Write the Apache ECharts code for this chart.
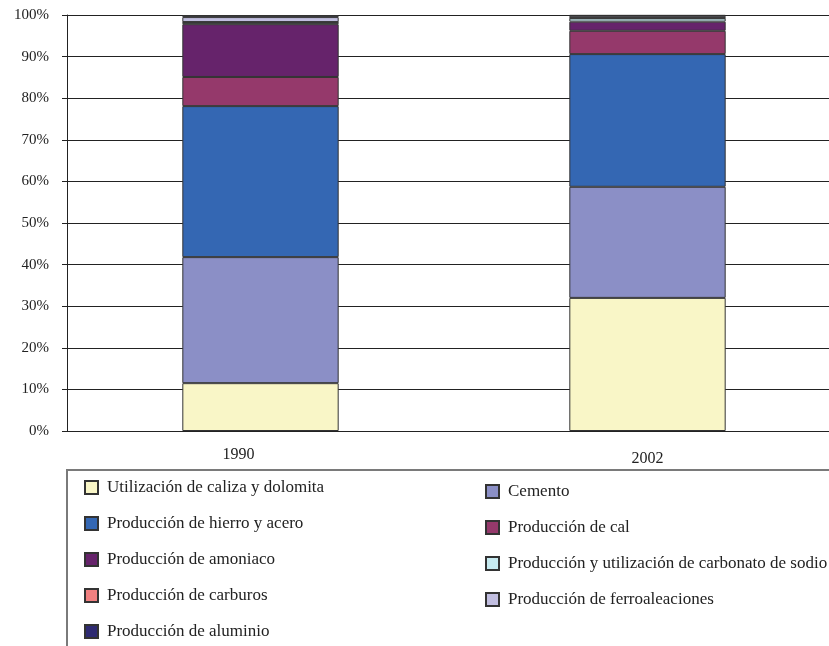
<!DOCTYPE html>
<html>
<head>
<meta charset="utf-8">
<script src="https://cdn.jsdelivr.net/npm/echarts@6/dist/echarts.min.js"></script>
<style>
  html, body { margin: 0; padding: 0; background: #fff; overflow: hidden; }
  /* the plot runs past the right edge of the window in the original */
  #chart { width: 841px; height: 646px; }
</style>
</head>
<body>
<div id="chart"></div>
<script>
// categories and percentage shares
const years = ['1990', '2002'];
const yTicks = ['0%', '10%', '20%', '30%', '40%', '50%', '60%', '70%', '80%', '90%', '100%'];

const caliza = [11.5, 32.0];
const cemento = [30.3, 26.7];
const hierro = [36.3, 31.9];
const cal = [7.0, 5.6];
const amoniaco = [12.7, 2.2];
const carbonato = [0.4, 0.8];
const carburos = [0.1, 0.1];
const ferro = [1.2, 0.5];
const aluminio = [0.5, 0.2];

const serif = '"Liberation Serif", "DejaVu Serif", serif';

// stack order, bottom to top
const stackDefs = [
  { name: 'Utilización de caliza y dolomita', data: caliza, color: '#f9f6c7' },
  { name: 'Cemento', data: cemento, color: '#8b8fc6' },
  { name: 'Producción de hierro y acero', data: hierro, color: '#3467b3' },
  { name: 'Producción de cal', data: cal, color: '#95396b' },
  { name: 'Producción de amoniaco', data: amoniaco, color: '#66236b' },
  { name: 'Producción y utilización de carbonato de sodio', data: carbonato, color: '#c6eaf0' },
  { name: 'Producción de carburos', data: carburos, color: '#f08080' },
  { name: 'Producción de ferroaleaciones', data: ferro, color: '#c1bee0' },
  { name: 'Producción de aluminio', data: aluminio, color: '#2e2a72' }
];

const legendLeft = [stackDefs[0].name, stackDefs[2].name, stackDefs[4].name, stackDefs[6].name, stackDefs[8].name];
const legendRight = [stackDefs[1].name, stackDefs[3].name, stackDefs[5].name, stackDefs[7].name];

const legendBase = {
  orient: 'vertical',
  icon: 'rect',
  itemWidth: 13,
  itemHeight: 13,
  itemGap: 19,
  padding: 0,
  textStyle: { fontFamily: serif, fontSize: 17, color: '#222', padding: [0, 0, 0, 4] },
  selectedMode: false
};

const chart = echarts.init(document.getElementById('chart'));
chart.setOption({
  animation: false,
  textStyle: { fontFamily: serif },
  grid: { left: 67, top: 15, right: 0, height: 416 },
  graphic: [{
    type: 'rect',
    shape: { x: 67, y: 470, width: 800, height: 200 },
    style: { fill: 'none', stroke: '#7a7a7a', lineWidth: 2 },
    z: 0
  }],
  legend: [
    Object.assign({}, legendBase, { left: 84, top: 479, data: legendLeft }),
    Object.assign({}, legendBase, { left: 485, top: 483, data: legendRight })
  ],
  xAxis: {
    type: 'category',
    data: years,
    axisLine: { lineStyle: { color: '#222', width: 1 } },
    axisTick: { length: 6, lineStyle: { color: '#222' } },
    axisLabel: {
      fontFamily: serif, fontSize: 16, color: '#222', margin: 16,
      // first label sits a bit left of its bar, second a bit lower
      formatter: (v, i) => (i === 0 ? '{a|' + v + '}' : '{b|' + v + '}'),
      rich: {
        a: { fontFamily: serif, fontSize: 16, color: '#222', padding: [0, 44, 0, 0] },
        b: { fontFamily: serif, fontSize: 16, color: '#222', padding: [4, 0, 0, 0] }
      }
    }
  },
  yAxis: {
    type: 'value',
    min: 0,
    max: 100,
    interval: 10,
    axisLine: { show: true, lineStyle: { color: '#222', width: 1 } },
    axisTick: { show: true, length: 5, lineStyle: { color: '#222' } },
    axisLabel: {
      fontFamily: serif, fontSize: 15, color: '#222', margin: 18,
      formatter: (v) => yTicks[Math.round(v / 10)]
    },
    splitLine: { show: true, lineStyle: { color: '#222', width: 1 } }
  },
  series: stackDefs.map((d) => ({
    name: d.name,
    type: 'bar',
    stack: 'total',
    barWidth: '40.4%',
    data: d.data,
    itemStyle: { color: d.color, borderColor: '#333', borderWidth: 1 }
  }))
});
</script>
</body>
</html>
